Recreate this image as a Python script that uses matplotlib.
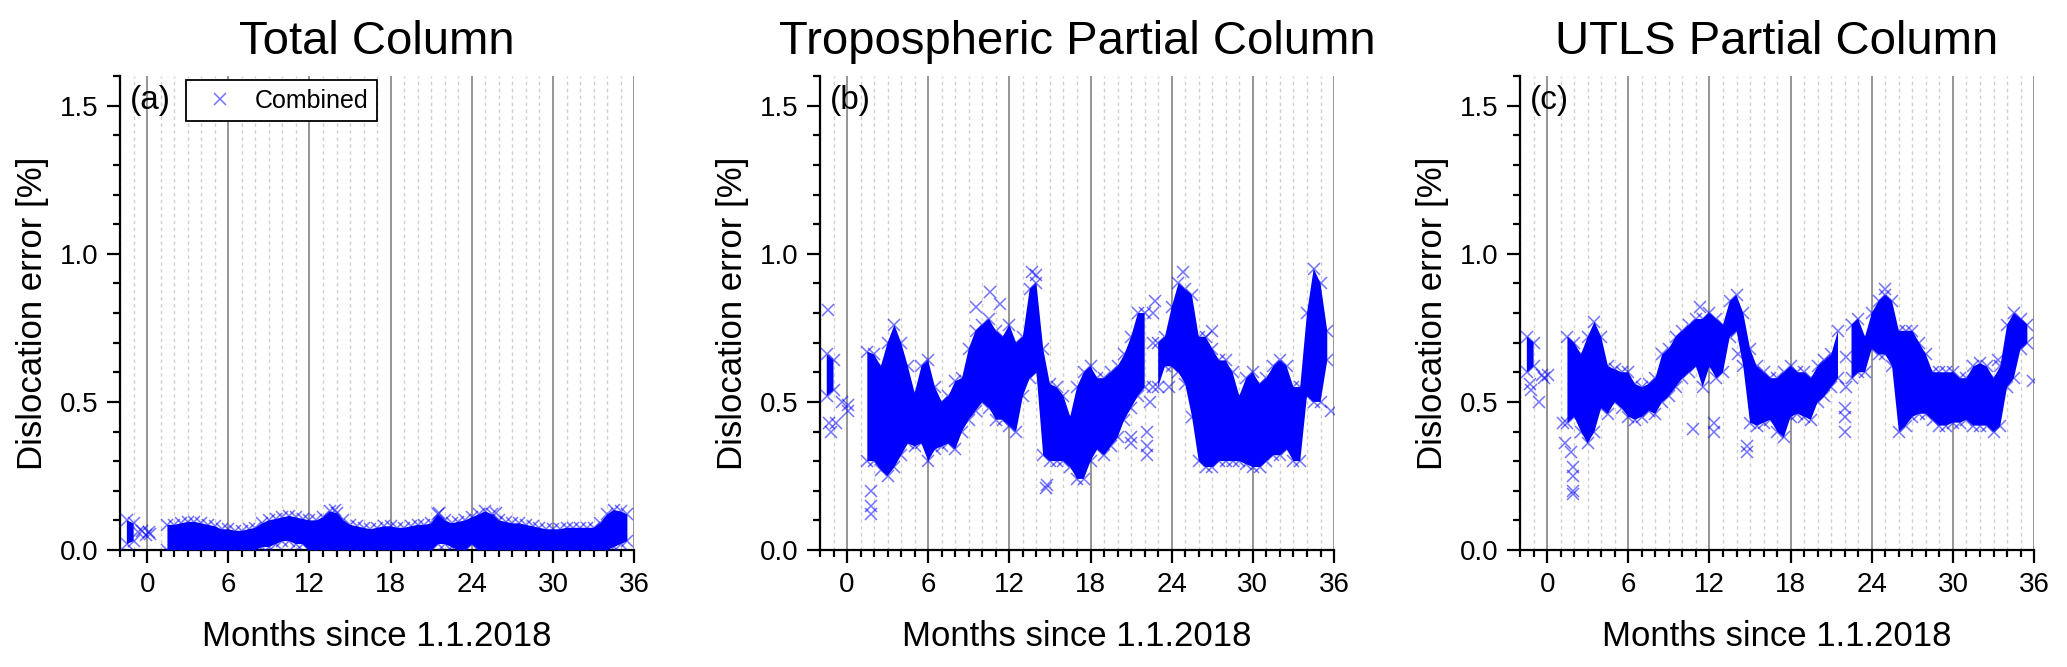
"""Dislocation error vs. time for total, tropospheric and UTLS columns."""

import matplotlib

matplotlib.use("Agg", force=True)
import matplotlib.pyplot as plt
import numpy as np
from matplotlib.ticker import MultipleLocator

plt.rcParams["font.family"] = ["Liberation Sans", "DejaVu Sans"]

BLUE = "#0000ff"
NAN = np.nan

# sampling grid (months since 1.1.2018), half-month steps
MONTHS = [
    -1.5, -1.0, -0.5, 0.0, 0.5, 1.0, 1.5, 2.0, 2.5, 3.0, 3.5, 4.0, 4.5, 5.0,
    5.5, 6.0, 6.5, 7.0, 7.5, 8.0, 8.5, 9.0, 9.5, 10.0, 10.5, 11.0, 11.5, 12.0,
    12.5, 13.0, 13.5, 14.0, 14.5, 15.0, 15.5, 16.0, 16.5, 17.0, 17.5, 18.0,
    18.5, 19.0, 19.5, 20.0, 20.5, 21.0, 21.5, 22.0, 22.5, 23.0, 23.5, 24.0,
    24.5, 25.0, 25.5, 26.0, 26.5, 27.0, 27.5, 28.0, 28.5, 29.0, 29.5, 30.0,
    30.5, 31.0, 31.5, 32.0, 32.5, 33.0, 33.5, 34.0, 34.5, 35.0, 35.5, 36.0,
]

# (a) total column: upper / lower edge of the point cloud
TOTAL_HI = [
    0.10, 0.09, NAN, NAN, NAN, NAN, 0.085, 0.085, 0.09, 0.095, 0.095, 0.09,
    0.085, 0.08, 0.07, 0.07, 0.065, 0.065, 0.07, 0.075, 0.09, 0.10, 0.105,
    0.11, 0.115, 0.11, 0.105, 0.10, 0.10, 0.11, 0.13, 0.125, 0.10, 0.085,
    0.08, 0.075, 0.07, 0.075, 0.08, 0.08, 0.075, 0.075, 0.08, 0.085, 0.085,
    0.09, 0.12, 0.10, 0.09, 0.095, 0.10, 0.11, 0.12, 0.13, 0.12, 0.10, 0.095,
    0.09, 0.09, 0.085, 0.08, 0.075, 0.07, 0.07, 0.07, 0.075, 0.075, 0.075,
    0.075, 0.075, 0.09, 0.12, 0.135, 0.13, 0.12, NAN,
]
TOTAL_LO = [
    0.02, 0.03, NAN, NAN, NAN, NAN, 0.0, 0.0, 0.0, 0.0, 0.0, 0.0, 0.0, 0.0,
    0.0, 0.0, 0.0, 0.0, 0.0, 0.0, 0.01, 0.01, 0.02, 0.03, 0.03, 0.02, 0.02,
    0.0, 0.0, 0.0, 0.0, 0.0, 0.0, 0.0, 0.0, 0.0, 0.0, 0.0, 0.0, 0.0, 0.0,
    0.0, 0.0, 0.0, 0.0, 0.0, 0.02, 0.02, 0.01, 0.0, 0.0, 0.02, 0.0, 0.0, 0.0,
    0.0, 0.0, 0.0, 0.0, 0.0, 0.0, 0.0, 0.0, 0.0, 0.0, 0.0, 0.0, 0.0, 0.0,
    0.0, 0.0, 0.0, 0.01, 0.02, 0.03, NAN,
]
TOTAL_OUT_X = [-0.7, -0.4, -0.1, 0.1, 0.2, 13.9, 21.6, 25.8]
TOTAL_OUT_Y = [0.06, 0.065, 0.05, 0.06, 0.055, 0.135, 0.125, 0.125]

# (b) tropospheric partial column
TROPO_HI = [
    0.66, 0.64, NAN, NAN, NAN, NAN, 0.67, 0.66, 0.62, 0.70, 0.76, 0.70, 0.62,
    0.53, 0.62, 0.64, 0.55, 0.50, 0.52, 0.57, 0.58, 0.68, 0.74, 0.76, 0.78,
    0.74, 0.72, 0.76, 0.70, 0.72, 0.88, 0.90, 0.68, 0.56, 0.55, 0.52, 0.45,
    0.55, 0.60, 0.62, 0.58, 0.58, 0.60, 0.62, 0.66, 0.72, 0.80, 0.80, NAN,
    0.70, 0.72, 0.82, 0.90, 0.88, 0.86, 0.72, 0.72, 0.68, 0.64, 0.64, 0.60,
    0.52, 0.58, 0.60, 0.56, 0.58, 0.62, 0.64, 0.62, 0.55, 0.55, 0.80, 0.95,
    0.90, 0.74, NAN,
]
TROPO_LO = [
    0.52, 0.54, NAN, NAN, NAN, NAN, 0.30, 0.30, 0.27, 0.25, 0.28, 0.32, 0.36,
    0.35, 0.36, 0.30, 0.34, 0.35, 0.36, 0.34, 0.40, 0.44, 0.47, 0.50, 0.48,
    0.44, 0.44, 0.42, 0.40, 0.52, 0.58, 0.60, 0.32, 0.30, 0.30, 0.30, 0.28,
    0.24, 0.24, 0.30, 0.34, 0.32, 0.35, 0.38, 0.44, 0.48, 0.52, 0.55, NAN,
    0.55, 0.62, 0.62, 0.60, 0.56, 0.45, 0.30, 0.28, 0.28, 0.30, 0.30, 0.30,
    0.30, 0.29, 0.28, 0.28, 0.30, 0.32, 0.32, 0.34, 0.30, 0.30, 0.52, 0.50,
    0.50, 0.64, NAN,
]
TROPO_OUT_X = [
    -1.4, -1.3, -1.2, -0.8, -0.4, 0.05, 0.1, 1.8, 1.8, 1.8, 9.5, 10.6, 11.3,
    13.7, 14.0, 14.7, 14.8, 21.0, 21.0, 22.2, 22.2, 22.2, 22.4, 22.6, 22.6,
    22.6, 22.8, 23.8, 24.8, 27.0, 35.8,
]
TROPO_OUT_Y = [
    0.81, 0.43, 0.40, 0.43, 0.50, 0.47, 0.49, 0.20, 0.15, 0.12, 0.82, 0.87,
    0.83, 0.94, 0.93, 0.21, 0.22, 0.36, 0.38, 0.32, 0.35, 0.40, 0.50, 0.55,
    0.70, 0.80, 0.84, 0.55, 0.94, 0.74, 0.47,
]

# (c) UTLS partial column
UTLS_HI = [
    0.72, 0.70, NAN, NAN, NAN, NAN, 0.72, 0.70, 0.66, 0.72, 0.77, 0.72, 0.62,
    0.61, 0.60, 0.60, 0.56, 0.55, 0.56, 0.58, 0.66, 0.68, 0.72, 0.74, 0.76,
    0.78, 0.78, 0.80, 0.78, 0.76, 0.84, 0.86, 0.80, 0.68, 0.62, 0.60, 0.58,
    0.58, 0.60, 0.62, 0.60, 0.60, 0.58, 0.62, 0.64, 0.66, 0.74, NAN, 0.76,
    0.78, 0.72, 0.80, 0.84, 0.86, 0.84, 0.74, 0.74, 0.74, 0.70, 0.66, 0.60,
    0.60, 0.60, 0.60, 0.58, 0.58, 0.62, 0.63, 0.62, 0.58, 0.62, 0.76, 0.80,
    0.78, 0.76, NAN,
]
UTLS_LO = [
    0.60, 0.62, NAN, NAN, NAN, NAN, 0.43, 0.45, 0.40, 0.36, 0.40, 0.48, 0.46,
    0.50, 0.48, 0.45, 0.44, 0.45, 0.47, 0.46, 0.50, 0.52, 0.55, 0.58, 0.60,
    0.62, 0.55, 0.62, 0.58, 0.60, 0.72, 0.74, 0.62, 0.43, 0.42, 0.43, 0.44,
    0.40, 0.38, 0.45, 0.46, 0.45, 0.44, 0.50, 0.52, 0.55, 0.58, NAN, 0.58,
    0.60, 0.60, 0.68, 0.66, 0.66, 0.62, 0.40, 0.42, 0.45, 0.46, 0.46, 0.44,
    0.42, 0.42, 0.43, 0.43, 0.44, 0.42, 0.42, 0.42, 0.40, 0.42, 0.55, 0.58,
    0.68, 0.70, NAN,
]
UTLS_OUT_X = [
    -1.3, -1.2, -0.6, -0.4, -0.2, 0.1, 1.2, 1.3, 1.8, 1.9, 1.9, 1.9, 1.9,
    10.8, 11.3, 12.3, 12.3, 14.1, 14.8, 14.8, 22.0, 22.0, 22.0, 22.1, 22.1,
    25.0, 33.3, 35.9,
]
UTLS_OUT_Y = [
    0.56, 0.54, 0.50, 0.59, 0.58, 0.59, 0.43, 0.36, 0.33, 0.28, 0.25, 0.20,
    0.19, 0.41, 0.82, 0.40, 0.43, 0.66, 0.33, 0.35, 0.40, 0.45, 0.48, 0.55,
    0.65, 0.88, 0.64, 0.57,
]

PANELS = [
    ("Total Column", "(a)", TOTAL_HI, TOTAL_LO, TOTAL_OUT_X, TOTAL_OUT_Y),
    ("Tropospheric Partial Column", "(b)", TROPO_HI, TROPO_LO,
     TROPO_OUT_X, TROPO_OUT_Y),
    ("UTLS Partial Column", "(c)", UTLS_HI, UTLS_LO, UTLS_OUT_X, UTLS_OUT_Y),
]

fig = plt.figure(figsize=(20.67, 6.67), dpi=100)
lefts = [0.0581, 0.3967, 0.7354]

for i, (title, tag, hi, lo, ox, oy) in enumerate(PANELS):
    ax = fig.add_axes([lefts[i], 0.1754, 0.2487, 0.7106])
    x = np.asarray(MONTHS)
    hi = np.asarray(hi, dtype=float)
    lo = np.asarray(lo, dtype=float)

    ax.fill_between(x, lo, hi, color=BLUE, lw=0, zorder=3)
    for edge in (hi, lo):
        ax.plot(x, edge, "x", ls="none", ms=8, mew=1.1, color=BLUE,
                alpha=0.55, zorder=4)
    ax.plot(ox, oy, "x", ls="none", ms=8, mew=1.1, color=BLUE, alpha=0.55,
            zorder=4, label="Combined")

    ax.set_xlim(-2, 36)
    ax.set_ylim(0, 1.6)
    ax.xaxis.set_major_locator(MultipleLocator(6))
    ax.xaxis.set_minor_locator(MultipleLocator(1))
    ax.yaxis.set_major_locator(MultipleLocator(0.5))
    ax.yaxis.set_minor_locator(MultipleLocator(0.1))
    ax.set_yticks([0.0, 0.5, 1.0, 1.5], ["0.0", "0.5", "1.0", "1.5"])

    ax.grid(True, which="major", axis="x", color="#8c8c8c", lw=1.3, zorder=1)
    ax.grid(True, which="minor", axis="x", color="#cfcfcf", lw=1.0,
            ls=(0, (2.5, 2.5)), zorder=1)
    ax.set_axisbelow(True)

    for side in ("top", "right"):
        ax.spines[side].set_visible(False)
    for side in ("left", "bottom"):
        ax.spines[side].set_linewidth(1.6)
    ax.tick_params(which="major", direction="out", length=9.5, width=1.6,
                   labelsize=20, pad=6)
    ax.tick_params(which="minor", direction="out", length=5, width=1.6)

    ax.set_title(title, fontsize=34, pad=16)
    ax.set_xlabel("Months since 1.1.2018", fontsize=25, labelpad=16)
    ax.set_ylabel("Dislocation error [%]", fontsize=25, labelpad=8)
    ax.text(0.02, 0.949, tag, transform=ax.transAxes, fontsize=24,
            ha="left", va="center")

    if i == 0:
        leg = ax.legend(loc="upper left", bbox_to_anchor=(0.128, 0.992),
                        borderaxespad=0, fontsize=18, fancybox=False,
                        edgecolor="black", framealpha=1, handlelength=2.0,
                        handletextpad=0.4, borderpad=0.35)
        leg.get_frame().set_linewidth(1.3)

fig.savefig("out.png", dpi=100)
plt.close(fig)
